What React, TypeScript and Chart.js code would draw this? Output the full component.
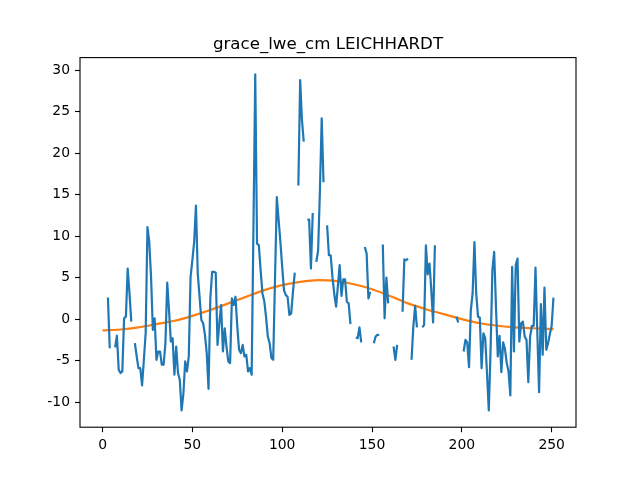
import React, { useEffect, useRef } from 'react';
import Chart from 'chart.js/auto';

const TITLE = 'grace_lwe_cm LEICHHARDT';

// monthly anomaly, index 0..251 (null = missing month)
const graceLwe: (number | null)[] = [
  null, null, null, 2.6, -3.5, null, null, -3.4, -2.0, -6.1, -6.5, -6.3,
  0.1, 0.3, 6.1, 3.1, -0.3, null, -2.9, -4.5, -5.9, -5.9, -8.0, -4.9,
  -1.7, 11.1, 9.3, 5.1, -1.3, 0.1, -4.9, -3.9, -3.9, -5.5, -5.5, -2.9,
  4.4, 1.1, -2.7, -2.3, -6.7, -3.3, -6.5, -7.3, -11.0, -9.0, -5.1, -6.3,
  -4.5, 5.1, 7.1, 9.3, 13.7, 5.5, 2.7, -0.1, -0.5, -1.9, -4.1, -8.4,
  2.5, 5.7, 5.7, 5.6, -3.1, -0.5, 1.7, -3.9, -1.1, -3.3, -5.1, -5.3,
  2.5, 1.7, 2.7, -0.9, -3.7, -4.1, -3.1, -4.5, -4.3, -6.3, -5.9, -6.7,
  11.0, 29.5, 9.1, 8.9, 5.9, 3.1, 2.2, 0.3, -2.1, -2.9, -4.7, -4.9,
  4.8, 14.7, 12.0, 9.3, 6.3, 3.5, 2.9, 2.7, 0.5, 0.7, 3.3, 5.6,
  null, 16.1, 28.8, 24.0, 21.4, null, 12.0, 12.0, 6.1, 12.8, null, 6.9,
  8.3, 15.5, 24.2, 16.5, null, 11.3, 7.7, 7.7, 5.0, 3.0, 1.5, 4.0,
  6.5, 2.8, 4.8, 4.8, 2.1, 1.9, -0.6, null, null, -2.2, -2.3, -1.0,
  -2.8, null, 8.7, 7.9, 2.5, 3.3, null, -2.9, -2.1, -1.9, -1.9, null,
  9.0, 0.1, 5.0, 1.9, null, null, -3.3, -4.9, -3.1, null, null, 0.9,
  7.2, 7.1, 7.3, null, -4.9, -0.9, 1.6, -1.0, null, null, -1.0, -0.7,
  8.9, 5.4, 6.7, 3.5, -0.4, 8.9, null, null, null, null, null, null,
  null, null, null, null, null, 0.3, -0.4, null, null, -3.9, -2.5, -2.8,
  -5.8, 1.1, 3.1, 9.3, 3.1, 0.3, 0.2, -5.9, -1.7, -2.3, -6.5, -11.0,
  -3.7, 5.9, 8.1, 1.5, -4.5, -2.0, -6.4, -2.8, -3.6, -5.3, -6.3, -9.2,
  6.3, -3.9, 6.5, 7.3, -2.7, -0.5, -0.3, -2.1, -2.5, -7.6, -2.1, -0.8,
  -0.8, 6.2, -1.5, -8.8, 1.8, -4.3, 3.8, -3.7, -2.9, -1.8, -0.8, 2.6,
];

// smooth fit
const trendIdx = [0, 10, 20, 30, 40, 50, 60, 70, 80, 90, 100, 110, 120, 130,
  140, 150, 160, 170, 180, 190, 200, 210, 220, 230, 240, 251];
const trendVal = [-1.35, -1.25, -1.0, -0.6, -0.2, 0.4, 1.1, 1.9, 2.7, 3.5, 4.1, 4.5, 4.7, 4.6,
  4.2, 3.6, 2.8, 1.9, 1.2, 0.6, 0.0, -0.5, -0.8, -1.0, -1.1, -1.2];

const xTicks = [0, 50, 100, 150, 200, 250];
const yTicks = [-10, -5, 0, 5, 10, 15, 20, 25, 30];

const FONT = '"DejaVu Sans", sans-serif';

export default function App() {
  const canvasRef = useRef<HTMLCanvasElement>(null);

  useEffect(() => {
    document.body.style.margin = '0';
    if (!canvasRef.current) return;

    // matplotlib style 5% margins
    const vals = graceLwe.filter(v => v !== null) as number[];
    const allY = vals.concat(trendVal);
    const yLo = Math.min(...allY), yHi = Math.max(...allY);
    const yPad = (yHi - yLo) * 0.05;
    const xLo = 0, xHi = graceLwe.length - 1;
    const xPad = (xHi - xLo) * 0.05;

    const frame = {
      id: 'frame',
      afterDatasetsDraw(chart: any) {
        const { ctx, chartArea: a } = chart;
        ctx.save();
        ctx.strokeStyle = '#000';
        ctx.lineWidth = 1.1;
        ctx.strokeRect(a.left, a.top, a.right - a.left, a.bottom - a.top);
        ctx.restore();
      },
      afterDraw(chart: any) {
        const { ctx, chartArea: a } = chart;
        ctx.save();
        ctx.font = `16.67px ${FONT}`;
        ctx.fillStyle = '#000';
        ctx.textAlign = 'center';
        ctx.textBaseline = 'alphabetic';
        ctx.fillText(TITLE, (a.left + a.right) / 2, a.top - 8.3);
        ctx.restore();
      }
    };

    const chart = new Chart(canvasRef.current, {
      type: 'line',
      data: {
        datasets: [
          {
            data: graceLwe.map((v, i) => ({ x: i, y: v })),
            borderColor: '#1f77b4',
            borderWidth: 2.2,
            pointRadius: 0,
            spanGaps: false,
            borderJoinStyle: 'round',
            tension: 0
          },
          {
            data: trendIdx.map((x, i) => ({ x, y: trendVal[i] })),
            borderColor: '#ff7f0e',
            borderWidth: 2.2,
            pointRadius: 0,
            cubicInterpolationMode: 'monotone'
          }
        ]
      },
      options: {
        responsive: false,
        animation: false,
        layout: { padding: { top: 57.6, right: 64, bottom: 0, left: 0 } },
        plugins: {
          legend: { display: false },
          title: { display: false },
          tooltip: { enabled: false }
        },
        scales: {
          x: {
            type: 'linear',
            min: xLo - xPad,
            max: xHi + xPad,
            afterBuildTicks: (s: any) => { s.ticks = xTicks.map(value => ({ value })); },
            afterFit: (s: any) => { s.height = 52.8; },
            grid: { drawOnChartArea: false, drawTicks: true, tickLength: 5, tickColor: '#000', tickWidth: 1.1 },
            border: { display: false },
            ticks: { color: '#000', padding: 5, maxRotation: 0, font: { family: FONT, size: 13.9 } }
          },
          y: {
            type: 'linear',
            min: yLo - yPad,
            max: yHi + yPad,
            afterBuildTicks: (s: any) => { s.ticks = yTicks.map(value => ({ value })); },
            afterFit: (s: any) => { s.width = 80; },
            grid: { drawOnChartArea: false, drawTicks: true, tickLength: 5, tickColor: '#000', tickWidth: 1.1 },
            border: { display: false },
            ticks: { color: '#000', padding: 5, font: { family: FONT, size: 13.9 } }
          }
        }
      },
      plugins: [frame]
    });

    return () => {
      chart.destroy();
    };
  }, []);

  return (
    <div style={{ width: 640, height: 480, background: '#fff' }}>
      <canvas ref={canvasRef} width={640} height={480} style={{ display: 'block' }}></canvas>
    </div>
  );
}
